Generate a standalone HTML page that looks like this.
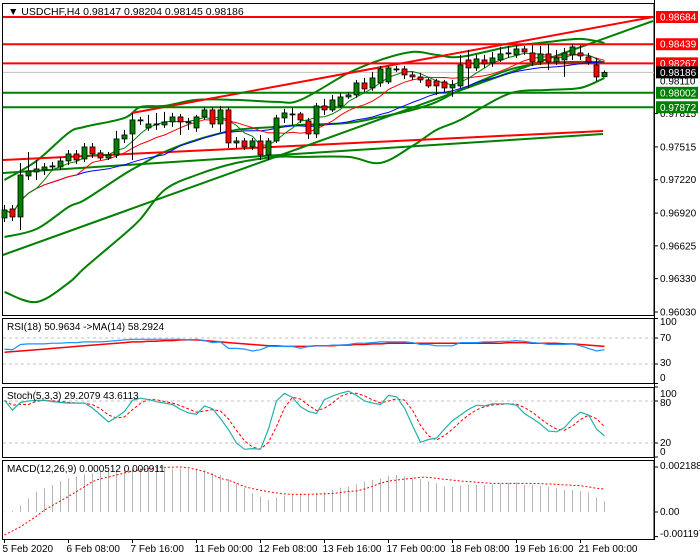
<!DOCTYPE html>
<html><head><meta charset="utf-8"><style>
html,body{margin:0;padding:0;background:#fff;}
svg{display:block;font-family:"Liberation Sans",sans-serif;font-size:10px;}
</style></head><body>
<svg id="c" width="700" height="560" viewBox="0 0 700 560"></svg>
<script>
const opens=[.96876,.96957,.96885,.97254,.97290,.97308,.97335,.97335,.97389,.97452,.97407,.97515,.97461,.97416,.97443,.97587,.97632,.97749,.97686,.97713,.97713,.97740,.97785,.97740,.97686,.97785,.97848,.97722,.97848,.97551,.97569,.97515,.97569,.97443,.97569,.97776,.97803,.97812,.97749,.97632,.97884,.97848,.97884,.97965,.97983,.98091,.98046,.98091,.98100,.98217,.98217,.98163,.98145,.98118,.98109,.98100,.98046,.98064,.98298,.98226,.98298,.98271,.98298,.98352,.98343,.98397,.98361,.98280,.98352,.98280,.98298,.98343,.98361,.98325,.98253,.98147];
const closes=[.96948,.96885,.97263,.97299,.97317,.97335,.97344,.97389,.97452,.97398,.97515,.97452,.97416,.97443,.97587,.97623,.97758,.97758,.97722,.97722,.97740,.97785,.97740,.97740,.97785,.97848,.97722,.97848,.97551,.97569,.97515,.97569,.97443,.97569,.97776,.97821,.97812,.97758,.97632,.97884,.97848,.97938,.97965,.97983,.98091,.98037,.98136,.98217,.98226,.98217,.98163,.98145,.98118,.98064,.98064,.98046,.98073,.98253,.98226,.98307,.98262,.98316,.98352,.98361,.98397,.98370,.98280,.98352,.98280,.98316,.98361,.98415,.98334,.98280,.98145,.98186];
const highs=[.96993,.96993,.97371,.97470,.97398,.97371,.97380,.97425,.97488,.97488,.97551,.97551,.97488,.97470,.97659,.97668,.97821,.97785,.97803,.97821,.97830,.97821,.97812,.97776,.97803,.97875,.97875,.97884,.97875,.97605,.97596,.97596,.97623,.97596,.97803,.97857,.97866,.97830,.97776,.97911,.97947,.97983,.98001,.98010,.98118,.98136,.98190,.98244,.98244,.98244,.98244,.98190,.98181,.98136,.98127,.98118,.98118,.98343,.98388,.98343,.98343,.98370,.98415,.98424,.98433,.98424,.98433,.98424,.98442,.98388,.98406,.98442,.98433,.98361,.98316,.98204];
const lows=[.96840,.96849,.96768,.97218,.97218,.97263,.97308,.97308,.97353,.97362,.97380,.97416,.97398,.97398,.97416,.97551,.97398,.97713,.97659,.97668,.97686,.97695,.97623,.97668,.97650,.97758,.97686,.97650,.97506,.97506,.97488,.97488,.97398,.97398,.97551,.97731,.97713,.97731,.97587,.97596,.97803,.97830,.97866,.97947,.97956,.98010,.98019,.98055,.98082,.98190,.98127,.98118,.98091,.98046,.97983,.98010,.97965,.98046,.98046,.98199,.98226,.98235,.98280,.98316,.98316,.98343,.98244,.98253,.98208,.98253,.98145,.98298,.98298,.98253,.98109,.98145];
const bandBars=[0,4,8,10,15,17,20,24,29,34,37,43,47,51,54,57,63,68,72,75];
const bandUpper=[.97218,.97389,.97641,.97695,.97776,.97875,.97884,.97938,.97938,.97920,.97938,.98181,.98298,.98370,.98343,.98325,.98415,.98460,.98487,.98451];
const bandMid=[.96705,.96777,.96975,.97038,.97272,.97353,.97470,.97578,.97668,.97695,.97713,.97731,.97785,.97848,.97920,.98028,.98208,.98271,.98280,.98280];
const bandLower=[.96210,.96120,.96291,.96426,.96732,.96867,.97128,.97263,.97371,.97425,.97425,.97425,.97371,.97524,.97668,.97758,.97992,.98028,.98046,.98136];
const levelsRed=[0.98684,0.98439,0.98267];
const levelsGreen=[0.98002,0.97872];
const priceTicks=["0.97815","0.97515","0.97220","0.96920","0.96625","0.96330","0.96030"];
const rsi=[53,52,60,61,61,61,62,62,63,63,64,64,64,65,66,67,68,68,68,68,68,68,68,67,68,66,63,64,54,54,53,50,52,57,57,57,57,54,57,58,58,59,59,60,62,62,63,64,64,64,64,63,60,60,58,58,58,63,63,63,64,64,65,65,66,65,63,62,60,60,60,61,58,54,50,52];
const rsiMa=[48,49,50,51,52,53,54,55,56,57,58,59,60,61,62,63,64,64,65,65,66,66,67,67,67,66,65,64,63,62,61,60,59,58,58,57,57,57,57,58,58,58,59,59,60,60,61,61,62,62,62,62,62,62,62,62,62,62,62,62,62,62,62,63,63,63,62,62,62,62,61,61,60,59,58,57];
const stochMain=[81,67,78,80,81,81,79,78,77,77,77,70,60,50,57,65,81,84,82,79,77,75,68,63,61,73,69,55,39,20,11,12,11,40,80,91,85,72,65,62,82,87,91,94,88,80,77,75,88,86,70,45,21,25,27,40,52,60,68,74,73,76,76,76,74,62,55,47,37,36,42,55,64,60,40,30];
const macdHist=[16,49,308,664,988,1150,1312,1507,1636,1717,1831,1879,1960,1993,2041,2090,2122,2122,2122,2155,2122,2122,2122,2090,2090,2041,1879,1798,1604,1393,1150,907,745,583,697,794,859,907,859,907,956,1069,1183,1231,1345,1474,1555,1636,1766,1798,1717,1669,1604,1507,1393,1231,1231,1280,1312,1312,1312,1345,1393,1426,1442,1312,1312,1280,1231,1150,1069,1069,1021,956,697,512];
const macdSignal=[-1118,-920,-720,-460,-200,97,320,540,760,990,1230,1480,1620,1700,1800,1900,1990,2050,2100,2155,2170,2185,2187,2150,2070,1960,1820,1636,1540,1400,1231,1140,1060,988,930,880,860,855,859,870,885,900,950,1000,1021,1120,1250,1400,1500,1555,1600,1640,1685,1685,1640,1590,1550,1507,1480,1450,1420,1393,1393,1393,1393,1393,1393,1380,1360,1345,1320,1300,1280,1220,1150,1118];
const dateLabels=["5 Feb 2020","6 Feb 08:00","7 Feb 16:00","11 Feb 00:00","12 Feb 08:00","13 Feb 16:00","17 Feb 00:00","18 Feb 08:00","19 Feb 16:00","21 Feb 00:00"];

const svg=document.getElementById('c');const NS='http://www.w3.org/2000/svg';
function mk(t,a,p){const e=document.createElementNS(NS,t);for(const k in a)e.setAttribute(k,a[k]);(p||svg).appendChild(e);return e;}
const X=i=>4.5+8*i;
const Y=p=>312-(p-0.9603)*11115;
const YR=v=>383.5-v*0.65;
const YS=v=>457-v*0.7;
const YM=v=>512-v*1e-6*45/0.002188;
function poly(xs,ys,st,name){const pts=xs.map((x,i)=>x.toFixed(1)+','+ys[i].toFixed(1)).join(' ');const e=mk('polyline',Object.assign({points:pts,fill:'none'},st));return e;}
function smooth(xs,ys,st,name){let d='M'+xs[0]+','+ys[0];for(let i=0;i<xs.length-1;i++){const x0=xs[Math.max(0,i-1)],y0=ys[Math.max(0,i-1)],x1=xs[i],y1=ys[i],x2=xs[i+1],y2=ys[i+1],x3=xs[Math.min(xs.length-1,i+2)],y3=ys[Math.min(xs.length-1,i+2)];d+=' C'+(x1+(x2-x0)/6).toFixed(1)+','+(y1+(y2-y0)/6).toFixed(1)+' '+(x2-(x3-x1)/6).toFixed(1)+','+(y2-(y3-y1)/6).toFixed(1)+' '+x2.toFixed(1)+','+y2.toFixed(1);}const e=mk('path',Object.assign({d:d,fill:'none'},st));return e;}
function txt(x,y,s,name,st){const e=mk('text',Object.assign({x:x,y:y},st||{}));e.textContent=s;return e;}
function rect(x,y,w,h,st,name){const e=mk('rect',Object.assign({x:x,y:y,width:w,height:h},st));return e;}
function line(x1,y1,x2,y2,st,name){const e=mk('line',Object.assign({x1:x1,y1:y1,x2:x2,y2:y2},st));return e;}
function sma(a,n){return a.map((v,i)=>{const s=a.slice(Math.max(0,i-n+1),i+1);return s.reduce((x,y)=>x+y,0)/s.length;});}

const panels=[[3,315,'main-panel'],[318,383,'rsi-panel'],[387,457,'stoch-panel'],[460,539,'macd-panel']];
panels.forEach(p=>rect(2.5,p[0]+0.5,651.5,p[1]-p[0],{fill:'#fff',stroke:'#000','stroke-width':1},p[2]));
line(654.5,0,654.5,540,{stroke:'#000'},'price-axis-line');

const G='#008000',R='#ff0000';
const cur=closes[closes.length-1];
line(3,Y(cur),654,Y(cur),{stroke:'#c0c0c0'},'current-price-line');
const bx=bandBars.map(X);
smooth(bx,bandLower.map(Y),{stroke:G,'stroke-width':2},'bollinger-lower');
smooth(bx,bandMid.map(Y),{stroke:G,'stroke-width':2},'bollinger-middle');
smooth(bx,bandUpper.map(Y),{stroke:G,'stroke-width':2},'bollinger-upper');
line(3,160,603,131,{stroke:R,'stroke-width':2},'support-trendline-red');
line(3,173,603,134,{stroke:G,'stroke-width':2},'support-trendline-green');
line(132,113,653,17,{stroke:R,'stroke-width':2},'resistance-trendline-red');
line(3,255,653,21,{stroke:G,'stroke-width':2},'rising-trendline-green');
levelsRed.forEach((l,i)=>line(3,Y(l),654,Y(l),{stroke:R,'stroke-width':2},'resistance-level-'+(i+1)));
levelsGreen.forEach((l,i)=>line(3,Y(l),654,Y(l),{stroke:G,'stroke-width':2},'support-level-'+(i+1)));
const xs=closes.map((c,i)=>X(i));
poly(xs,sma(closes,21).map(Y),{stroke:'#0000ff','stroke-width':1},'ma-slow-blue');
poly(xs,sma(closes,10).map(Y),{stroke:R,'stroke-width':1},'ma-mid-red');
poly(xs,sma(closes,5).map(Y),{stroke:G,'stroke-width':1},'ma-fast-green');
closes.forEach((c,i)=>{const o=opens[i],x=X(i);
 const g=mk('g',{});
 mk('line',{x1:x,y1:Y(highs[i]),x2:x,y2:Y(lows[i]),stroke:'#000'},g);
 const t=Math.min(Y(o),Y(c)),h=Math.max(1,Math.abs(Y(o)-Y(c)));
 mk('rect',{x:x-2.5,y:t,width:5,height:h,fill:c>=o?G:R,stroke:'#000','stroke-width':0.8},g);});
txt(8,15,'\u25BC USDCHF,H4  0.98147 0.98204 0.98145 0.98186','chart-title',{'font-size':'10.5px'});

priceTicks.forEach(t=>{const y=Y(parseFloat(t));line(654,y,658,y,{stroke:'#000'},'price-tick');txt(660,y+3.5,t,'price-tick-label');});
txt(660,Y(0.98110)+3.5,'0.98110','price-tick-label');
function tag(v,col,name){const y=Y(v);rect(656,y-6,42,12,{fill:col},name+'-bg');txt(660,y+3.5,v.toFixed(5),name,{fill:'#fff'});}
tag(levelsRed[0],R,'level-label-98684');tag(levelsRed[1],R,'level-label-98439');tag(levelsRed[2],R,'level-label-98267');
tag(cur,'#000','current-price-label');
tag(levelsGreen[0],G,'level-label-98002');tag(levelsGreen[1],G,'level-label-97872');

[70,30].forEach(v=>line(3,YR(v),654,YR(v),{stroke:'#c0c0c0','stroke-dasharray':'3,3'},'rsi-level-'+v));
poly(xs,rsiMa.map(YR),{stroke:R,'stroke-width':1.5},'rsi-ma-line');
poly(xs,rsi.map(YR),{stroke:'#1e90ff','stroke-width':1.2},'rsi-line');
txt(7,330,'RSI(18) 50.9634  ->MA(14) 58.2924','rsi-label');
[[100,325],[70,341],[30,366],[0,381]].forEach(a=>{line(654,YR(a[0]),658,YR(a[0]),{stroke:'#000'},'rsi-tick');txt(660,a[1],String(a[0]),'rsi-tick-label');});

[80,20].forEach(v=>line(3,YS(v),654,YS(v),{stroke:'#c0c0c0','stroke-dasharray':'3,3'},'stoch-level-'+v));
const stochSig=sma(stochMain,3);
poly(xs,stochSig.map(YS),{stroke:R,'stroke-dasharray':'3,2'},'stoch-signal-line');
poly(xs,stochMain.map(YS),{stroke:'#20b2aa','stroke-width':1.2},'stoch-main-line');
txt(7,399,'Stoch(5,3,3) 29.2079 43.6113','stoch-label');
[[100,397],[80,406],[20,446],[0,455]].forEach(a=>{line(654,YS(a[0]),658,YS(a[0]),{stroke:'#000'},'stoch-tick');txt(660,a[1],String(a[0]),'stoch-tick-label');});

macdHist.forEach((v,i)=>{const e=mk('line',{x1:X(i),y1:YM(0),x2:X(i),y2:YM(v),stroke:'#b4b4b4','stroke-width':1});});
poly(xs,macdSignal.map(YM),{stroke:R,'stroke-dasharray':'2,2'},'macd-signal-line');
txt(7,472,'MACD(12,26,9) 0.000512 0.000911','macd-label');
[['0.002188',2188,469],['0.00',0,515],['-0.001197',-1197,537]].forEach(a=>{line(654,YM(a[1]),658,YM(a[1]),{stroke:'#000'},'macd-tick');txt(660,a[2],a[0],'macd-tick-label');});

dateLabels.forEach((d,k)=>{const x=X(k*8);line(x,539,x,543,{stroke:'#000'},'date-tick');txt(x-2,552,d,'date-label');});
</script>
</body></html>
